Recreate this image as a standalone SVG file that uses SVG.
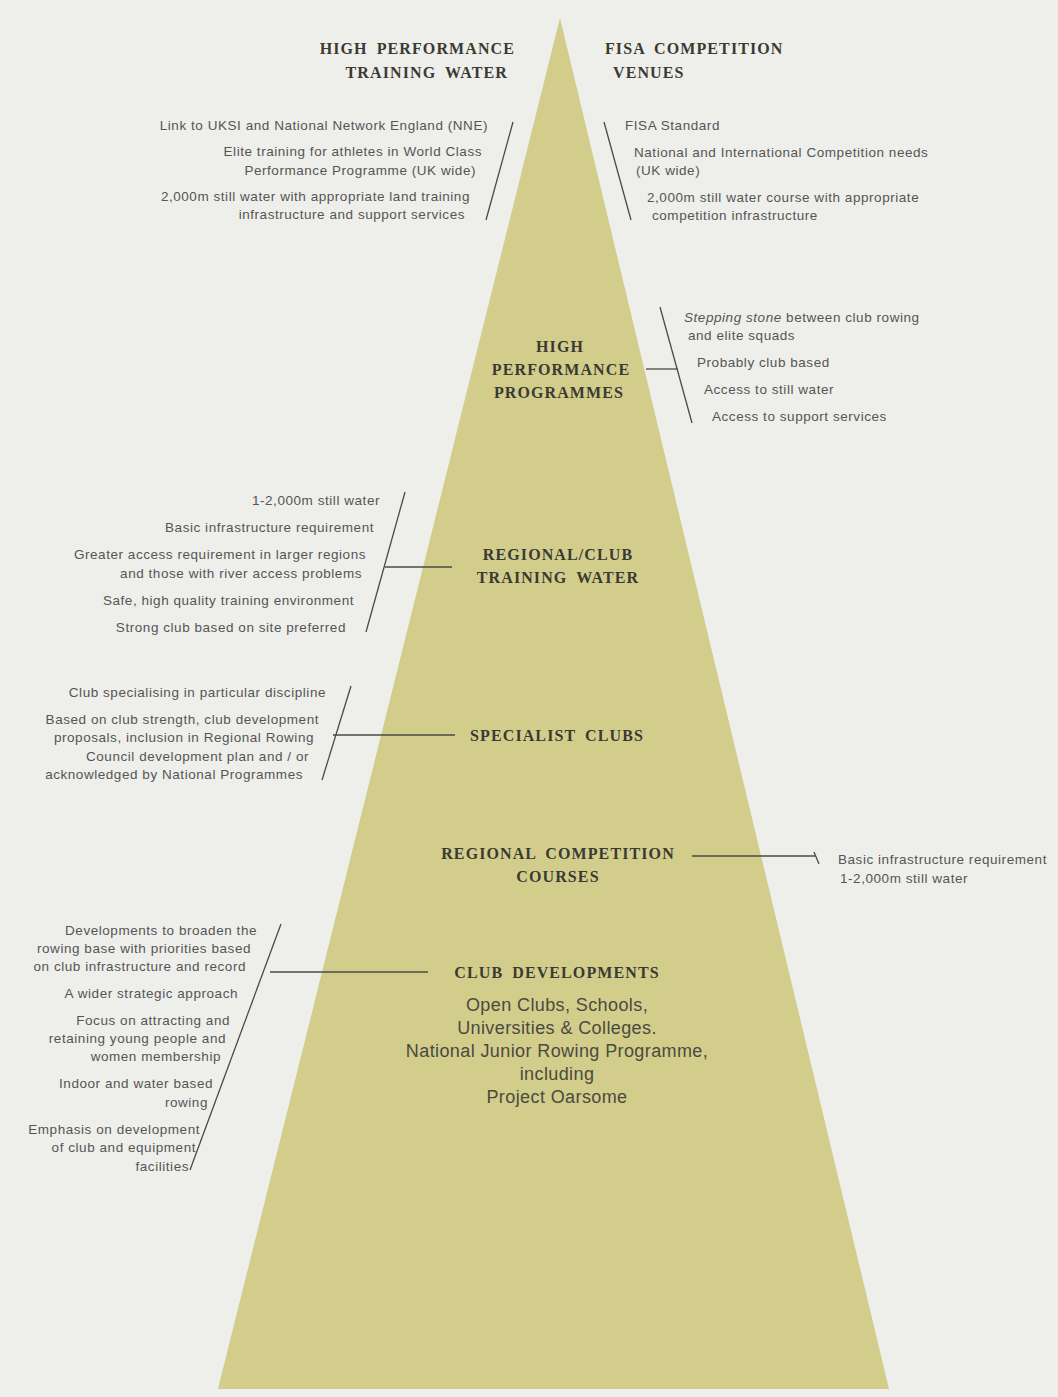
<svg xmlns="http://www.w3.org/2000/svg" width="1058" height="1397" viewBox="0 0 1058 1397">
<style>
.h{font-family:"Liberation Serif",serif;font-weight:bold;font-size:16px;fill:#3a3a34;letter-spacing:1.1px;word-spacing:4px}
.t{font-family:"Liberation Sans",Arial,sans-serif;font-size:13.5px;fill:#555;letter-spacing:0.55px}
.e{text-anchor:end}
.c{font-family:"Liberation Sans",Arial,sans-serif;font-size:18px;fill:#4a4a40;text-anchor:middle;letter-spacing:0.4px}
.m{text-anchor:middle}
.ln{stroke:#4a4a4a;stroke-width:1.3;fill:none}
</style>
<rect width="1058" height="1397" fill="#eeeeeb"/>
<polygon id="pyramid" points="560,18 218,1389 889,1389" fill="#d3cd8b"/>

<g id="connectors">
<line class="ln" x1="513" y1="122" x2="486" y2="220"/>
<line class="ln" x1="604" y1="122" x2="631" y2="220"/>
<line class="ln" x1="660" y1="307" x2="692" y2="423"/>
<line class="ln" x1="646" y1="369" x2="678" y2="369"/>
<line class="ln" x1="405" y1="492" x2="366" y2="632"/>
<line class="ln" x1="385" y1="567" x2="452" y2="567"/>
<line class="ln" x1="351" y1="686" x2="322" y2="780"/>
<line class="ln" x1="333" y1="735" x2="455" y2="735"/>
<line class="ln" x1="692" y1="856" x2="815" y2="856"/>
<line class="ln" x1="814" y1="852" x2="819" y2="864"/>
<line class="ln" x1="281" y1="924" x2="190" y2="1170"/>
<line class="ln" x1="270" y1="972" x2="428" y2="972"/>
</g>

<g id="hp-training-water">
<text class="h e" x="515" y="54">HIGH PERFORMANCE</text>
<text class="h e" x="508" y="78">TRAINING WATER</text>
<text class="t e" x="488" y="130">Link to UKSI and National Network England (NNE)</text>
<text class="t e" x="482" y="156">Elite training for athletes in World Class</text>
<text class="t e" x="476" y="175">Performance Programme (UK wide)</text>
<text class="t e" x="470" y="201">2,000m still water with appropriate land training</text>
<text class="t e" x="465" y="219">infrastructure and support services</text>
</g>

<g id="fisa-venues">
<text class="h" x="605" y="54">FISA COMPETITION</text>
<text class="h" x="613" y="78">VENUES</text>
<text class="t" x="625" y="130">FISA Standard</text>
<text class="t" x="634" y="157">National and International Competition needs</text>
<text class="t" x="636" y="175">(UK wide)</text>
<text class="t" x="647" y="202">2,000m still water course with appropriate</text>
<text class="t" x="652" y="220">competition infrastructure</text>
</g>

<g id="hp-programmes">
<text class="h m" x="560" y="352">HIGH</text>
<text class="h m" x="561" y="375">PERFORMANCE</text>
<text class="h m" x="559" y="398">PROGRAMMES</text>
<text class="t" x="684" y="322"><tspan font-style="italic">Stepping stone</tspan> between club rowing</text>
<text class="t" x="688" y="340">and elite squads</text>
<text class="t" x="697" y="367">Probably club based</text>
<text class="t" x="704" y="394">Access to still water</text>
<text class="t" x="712" y="421">Access to support services</text>
</g>

<g id="regional-club-training">
<text class="h m" x="558" y="560">REGIONAL/CLUB</text>
<text class="h m" x="558" y="583">TRAINING WATER</text>
<text class="t e" x="380" y="505">1-2,000m still water</text>
<text class="t e" x="374" y="532">Basic infrastructure requirement</text>
<text class="t e" x="366" y="559">Greater access requirement in larger regions</text>
<text class="t e" x="362" y="578">and those with river access problems</text>
<text class="t e" x="354" y="605">Safe, high quality training environment</text>
<text class="t e" x="346" y="632">Strong club based on site preferred</text>
</g>

<g id="specialist-clubs">
<text class="h m" x="557" y="741">SPECIALIST CLUBS</text>
<text class="t e" x="326" y="697">Club specialising in particular discipline</text>
<text class="t e" x="319" y="724">Based on club strength, club development</text>
<text class="t e" x="314" y="742">proposals, inclusion in Regional Rowing</text>
<text class="t e" x="309" y="761">Council development plan and / or</text>
<text class="t e" x="303" y="779">acknowledged by National Programmes</text>
</g>

<g id="regional-competition">
<text class="h m" x="558" y="859">REGIONAL COMPETITION</text>
<text class="h m" x="558" y="882">COURSES</text>
<text class="t" x="838" y="864">Basic infrastructure requirement</text>
<text class="t" x="840" y="883">1-2,000m still water</text>
</g>

<g id="club-developments">
<text class="h m" x="557" y="978">CLUB DEVELOPMENTS</text>
<text class="c" x="557" y="1011">Open Clubs, Schools,</text>
<text class="c" x="557" y="1034">Universities &amp; Colleges.</text>
<text class="c" x="557" y="1057">National Junior Rowing Programme,</text>
<text class="c" x="557" y="1080">including</text>
<text class="c" x="557" y="1103">Project Oarsome</text>
<text class="t e" x="257" y="935">Developments to broaden the</text>
<text class="t e" x="251" y="953">rowing base with priorities based</text>
<text class="t e" x="246" y="971">on club infrastructure and record</text>
<text class="t e" x="238" y="998">A wider strategic approach</text>
<text class="t e" x="230" y="1025">Focus on attracting and</text>
<text class="t e" x="226" y="1043">retaining young people and</text>
<text class="t e" x="221" y="1061">women membership</text>
<text class="t e" x="213" y="1088">Indoor and water based</text>
<text class="t e" x="208" y="1107">rowing</text>
<text class="t e" x="200" y="1134">Emphasis on development</text>
<text class="t e" x="196" y="1152">of club and equipment</text>
<text class="t e" x="189" y="1171">facilities</text>
</g>
</svg>
